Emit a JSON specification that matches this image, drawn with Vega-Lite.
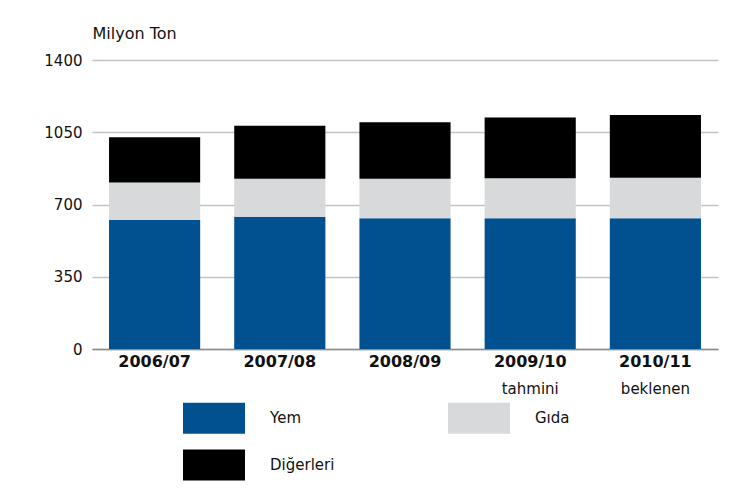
{
  "$schema": "https://vega.github.io/schema/vega-lite/v6.json",
  "width": 626,
  "height": 289,
  "autosize": {"type": "none"},
  "padding": {"left": 92, "top": 60, "right": 34, "bottom": 145},
  "background": "white",
  "data": {
    "values": [
      {"year": "2006/07", "type": "Yem", "ord": 1, "value": 625},
      {"year": "2006/07", "type": "Gıda", "ord": 2, "value": 181},
      {"year": "2006/07", "type": "Diğerleri", "ord": 3, "value": 220},
      {"year": "2007/08", "type": "Yem", "ord": 1, "value": 641},
      {"year": "2007/08", "type": "Gıda", "ord": 2, "value": 184},
      {"year": "2007/08", "type": "Diğerleri", "ord": 3, "value": 257},
      {"year": "2008/09", "type": "Yem", "ord": 1, "value": 633},
      {"year": "2008/09", "type": "Gıda", "ord": 2, "value": 192},
      {"year": "2008/09", "type": "Diğerleri", "ord": 3, "value": 273},
      {"year": "2009/10", "type": "Yem", "ord": 1, "value": 633},
      {"year": "2009/10", "type": "Gıda", "ord": 2, "value": 194},
      {"year": "2009/10", "type": "Diğerleri", "ord": 3, "value": 295},
      {"year": "2010/11", "type": "Yem", "ord": 1, "value": 633},
      {"year": "2010/11", "type": "Gıda", "ord": 2, "value": 197},
      {"year": "2010/11", "type": "Diğerleri", "ord": 3, "value": 304}
    ]
  },
  "layer": [
    {
      "mark": {"type": "bar"},
      "encoding": {
        "x": {
          "field": "year",
          "type": "nominal",
          "sort": null,
          "scale": {"paddingInner": 0.272, "paddingOuter": 0.136},
          "axis": {
            "orient": "bottom",
            "title": null,
            "labelAngle": 0,
            "ticks": false,
            "domainColor": "#8a8a8a",
            "domainWidth": 1.5,
            "labelFontSize": 16,
            "labelFontWeight": "bold",
            "labelColor": "#111111",
            "labelPadding": 4
          }
        },
        "y": {
          "field": "value",
          "type": "quantitative",
          "stack": "zero",
          "scale": {"domain": [0, 1400]},
          "axis": {
            "values": [0, 350, 700, 1050, 1400],
            "format": "d",
            "title": "Milyon Ton",
            "titleAngle": 0,
            "titleX": 0,
            "titleY": -27,
            "titleAlign": "left",
            "titleBaseline": "middle",
            "titleFontSize": 16,
            "titleFontWeight": "normal",
            "titleColor": "#111111",
            "domain": false,
            "ticks": false,
            "labelPadding": 10,
            "labelFontSize": 15,
            "labelColor": "#111111",
            "gridColor": "#c4c4c4",
            "gridWidth": 1.5
          }
        },
        "color": {
          "field": "type",
          "type": "nominal",
          "scale": {"domain": ["Yem", "Gıda", "Diğerleri"], "range": ["#01508f", "#d8d9db", "#000000"]},
          "legend": {
            "orient": "none",
            "legendX": 91,
            "legendY": 327,
            "title": null,
            "columns": 2,
            "direction": "horizontal",
            "symbolType": "M-1,-0.5H1V0.5H-1Z",
            "symbolSize": 3844,
            "symbolStrokeWidth": 0,
            "symbolOpacity": 1,
            "labelFontSize": 15,
            "labelColor": "#111111",
            "labelOffset": 25,
            "columnPadding": 113,
            "rowPadding": -22
          }
        },
        "order": {"field": "ord", "type": "quantitative"}
      }
    },
    {
      "mark": {"type": "bar", "opacity": 0},
      "encoding": {
        "x": {
          "field": "year",
          "type": "nominal",
          "sort": null,
          "axis": {
            "orient": "bottom",
            "title": null,
            "labelAngle": 0,
            "ticks": false,
            "domain": false,
            "grid": false,
            "labelExpr": "datum.value == '2009/10' ? 'tahmini' : (datum.value == '2010/11' ? 'beklenen' : '')",
            "labelPadding": 32,
            "labelFontSize": 15,
            "labelColor": "#111111"
          }
        }
      }
    }
  ],
  "resolve": {"axis": {"x": "independent"}},
  "config": {"font": "DejaVu Sans", "view": {"stroke": null}}
}
